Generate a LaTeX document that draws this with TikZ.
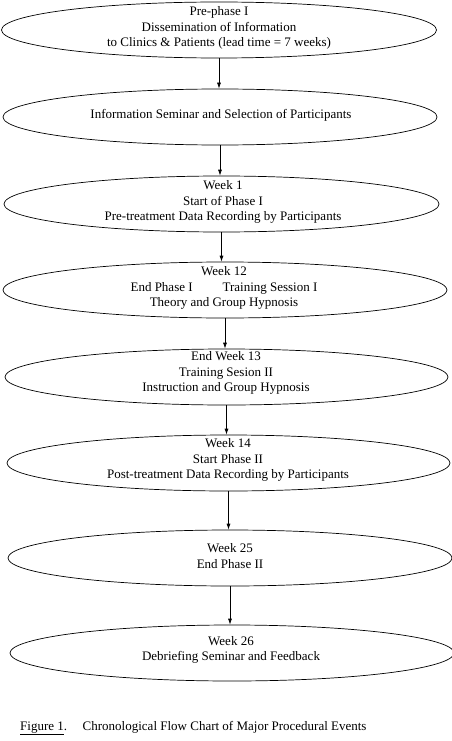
\documentclass[tikz,border=0pt]{standalone}
\usepackage{fontspec}
\setmainfont{Liberation Serif}
\usepackage{tikz}
\usetikzlibrary{arrows.meta,shapes.geometric}

\begin{document}
\begin{tikzpicture}[
  x=1pt,y=-1pt,
  evt/.style={draw,ellipse,line width=0.7pt,inner sep=0pt,minimum width=#1,minimum height=56pt},
  evt/.default=440pt,
  lbl/.style={align=center,inner sep=0pt,font=\fontsize{13}{15.5}\selectfont},
  arrow/.style={-{Latex[length=6pt,width=4pt]},line width=0.7pt}
]
\useasboundingbox (0,0) rectangle (452,741);
% ellipses
\node[evt=435pt] (prephase) at (219,30) {};
\node[evt=434pt] (seminar) at (220,117) {};
\node[evt=435pt] (week1) at (221.5,204) {};
\node[evt=444pt] (week12) at (225,290) {};
\node[evt=443pt] (week13) at (226.5,377) {};
\node[evt=443pt] (week14) at (228.5,463) {};
\node[evt=444pt] (week25) at (230,558) {};
\node[evt=444pt] (week26) at (232,653) {};
% texts
\node[lbl] (prephaseTxt) at (219,28) {Pre-phase I\\Dissemination of Information\\to Clinics \& Patients (lead time = 7 weeks)};
\node[lbl] (seminarTxt) at (221,115) {Information Seminar and Selection of Participants};
\node[lbl] (week1Txt) at (223,202) {Week 1\\Start of Phase I\\Pre-treatment Data Recording by Participants};
\node[lbl] (week12Txt) at (224,288) {Week 12\\End Phase I\hspace{2.3em}Training Session I\\Theory and Group Hypnosis};
\node[lbl] (week13Txt) at (226,373) {End Week 13\\Training Sesion II\\Instruction and Group Hypnosis};
\node[lbl] (week14Txt) at (228,460) {Week 14\\Start Phase II\\Post-treatment Data Recording by Participants};
\node[lbl] (week25Txt) at (230,556) {Week 25\\End Phase II};
\node[lbl] (week26Txt) at (231,650) {Week 26\\Debriefing Seminar and Feedback};
% caption
\node[lbl,anchor=west] (caption) at (20,728) {\underline{Figure 1}.\hspace{1.2em}Chronological Flow Chart of Major Procedural Events};
% arrows
\draw[arrow] (prephase.south) -- (prephase.south |- seminar.north);
\draw[arrow] (seminar.south) -- (seminar.south |- week1.north);
\draw[arrow] (week1.south) -- (week1.south |- week12.north);
\draw[arrow] (week12.south) -- (week12.south |- week13.north);
\draw[arrow] (week13.south) -- (week13.south |- week14.north);
\draw[arrow] (week14.south) -- (week14.south |- week25.north);
\draw[arrow] (week25.south) -- (week25.south |- week26.north);
\end{tikzpicture}
\end{document}
